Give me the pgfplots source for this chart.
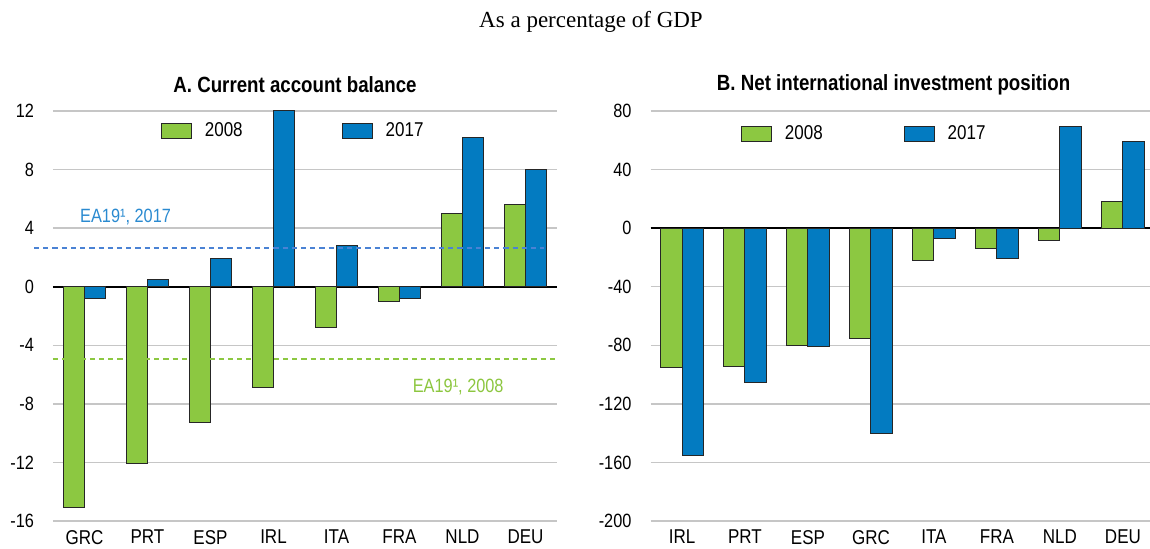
\documentclass[border=0pt]{standalone}
\usepackage{pgfplots}
\pgfplotsset{compat=1.18}
\usepackage{fontspec}
\setmainfont{Liberation Sans}[FakeStretch=0.85]
\newfontfamily\seriffont{Liberation Serif}
\definecolor{oGreen}{HTML}{8CC841}
\definecolor{oBlue}{HTML}{037BC1}
\definecolor{lineBlue}{HTML}{4A82D4}
\definecolor{labBlue}{HTML}{2A8AD0}
\definecolor{labGreen}{HTML}{8CC63F}
\definecolor{gridGray}{HTML}{C6C6C6}

\pgfplotsset{
  panel/.style={
    scale only axis, height=205pt,
    xmin=-0.5,
    ymajorgrids, grid style={gridGray, line width=0.75pt},
    axis line style={draw=none}, major tick style={draw=none},
    xtick={0,...,7},
    yticklabel style={xshift=-6pt, font=\fontsize{9.6}{11}\selectfont},
    xticklabel style={yshift=-1pt, font=\fontsize{10}{12}\selectfont},
    extra y ticks={0}, extra y tick labels={},
    extra y tick style={grid style={black, line width=0.8pt}},
    clip=false,
    legend image code/.code={\draw[#1] (0pt,-3.75pt) rectangle (15pt,3.75pt);},
    legend style={draw=none, fill=none, inner sep=0pt, outer sep=0pt, anchor=west,
      font=\fontsize{10}{12}\selectfont, nodes={inner sep=0pt},
      /tikz/every odd column/.append style={column sep=6.5pt}},
    legend columns=2,
  },
  gbar/.style={ybar, bar width=0.335, bar shift=-0.1675, fill=oGreen, draw=black!85, line width=0.5pt},
  bbar/.style={ybar, bar width=0.335, bar shift=0.1675, fill=oBlue, draw=black!85, line width=0.5pt},
}

\pgfplotstableread{
x  y2008  y2017
0  -15.1  -0.8
1  -12.1   0.5
2   -9.3   1.9
3   -6.9  12.0
4   -2.8   2.8
5   -1.0  -0.8
6    5.0  10.2
7    5.6   8.0
}\tableA

\pgfplotstableread{
x  y2008  y2017
0  -95.4  -155.5
1  -94.7  -105.3
2  -80.0   -80.7
3  -75.5  -140.3
4  -21.9    -7.1
5  -13.9   -20.6
6   -8.5    69.5
7   18.1    59.2
}\tableB

\begin{document}
\begin{tikzpicture}
\useasboundingbox (0,0) rectangle (575pt,274.5pt);

\node[font=\seriffont\fontsize{11.5}{13}\selectfont] at (295.5pt,263.5pt) {As a percentage of GDP};
\node[font=\bfseries\fontsize{11}{13}\selectfont] at (147.5pt,232pt) {A. Current account balance};
\node[font=\bfseries\fontsize{11}{13}\selectfont] at (446.8pt,232pt) {B. Net international investment position};

\begin{axis}[panel, at={(26.5pt,14pt)}, anchor=south west, width=252pt,
  xmax=7.5, ymin=-16, ymax=12,
  ytick={-16,-12,-8,-4,0,4,8,12},
  yticklabels={-16,-12,-8,-4,0,4,8,12},
  xticklabels={GRC,PRT,ESP,IRL,ITA,FRA,NLD,DEU},
  legend style={at={(0.214,0.95)},
    /tikz/every even column/.append style={column sep=49.5pt}},
]
\addplot[gbar] table[x=x, y=y2008] {\tableA};
\addplot[bbar] table[x=x, y=y2017] {\tableA};
\legend{2008,2017}
\addplot[forget plot, sharp plot, lineBlue, line width=1pt, dash pattern=on 2.6pt off 2pt] coordinates {(-0.8,2.63) (7.29,2.63)};
\addplot[forget plot, sharp plot, oGreen, line width=1pt, dash pattern=on 2.6pt off 2pt] coordinates {(-0.5,-4.91) (7.5,-4.91)};
\node[anchor=west, text=labBlue, font=\fontsize{9.6}{11}\selectfont] at (axis cs:-0.18,4.77) {EA19¹, 2017};
\node[anchor=west, text=labGreen, font=\fontsize{9.6}{11}\selectfont] at (axis cs:5.1,-6.88) {EA19¹, 2008};
\end{axis}

\begin{axis}[panel, at={(325.25pt,14pt)}, anchor=south west, width=249.75pt,
  xmax=7.43, ymin=-200, ymax=80,
  ytick={-200,-160,-120,-80,-40,0,40,80},
  yticklabels={-200,-160,-120,-80,-40,0,40,80},
  xticklabels={IRL,PRT,ESP,GRC,ITA,FRA,NLD,DEU},
  legend style={at={(0.181,0.944)},
    /tikz/every even column/.append style={column sep=40.5pt}},
]
\addplot[gbar] table[x=x, y=y2008] {\tableB};
\addplot[bbar] table[x=x, y=y2017] {\tableB};
\legend{2008,2017}
\end{axis}
\end{tikzpicture}
\end{document}
